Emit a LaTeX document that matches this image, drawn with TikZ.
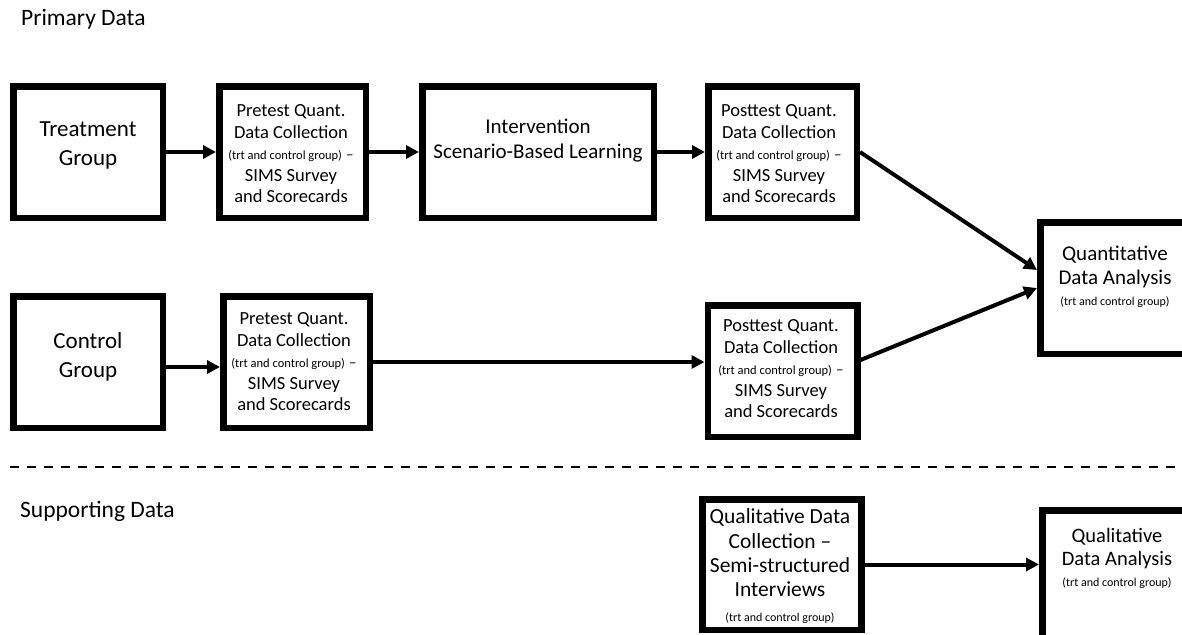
\documentclass[tikz,border=0pt]{standalone}
\usepackage{fontspec}
\setmainfont{Carlito}
\usetikzlibrary{arrows.meta}
\newcommand{\trtgrp}[1][12.5]{{\fontsize{#1}{14}\selectfont (trt and control group)}}
\tikzset{
  stagebox/.style={draw, line width=6.5pt, minimum width=#1, minimum height=131.5pt, inner sep=0pt},
  stagebox/.default=149.5pt,
  head/.style={inner sep=0pt, font=\fontsize{23.5}{28}\selectfont},
  grptxt/.style={inner sep=0pt, align=center, font=\fontsize{23}{29}\selectfont},
  coltxt/.style={inner sep=0pt, align=center, font=\fontsize{18.5}{21.5}\selectfont},
  antxt/.style={inner sep=0pt, align=center, font=\fontsize{21}{24}\selectfont},
  arr/.style={line width=4pt, -{Triangle[length=13pt,width=13pt]}},
  sepline/.style={line width=2pt, dash pattern=on 9pt off 8pt}
}
\begin{document}
\begin{tikzpicture}[x=1pt,y=-1pt]
      \useasboundingbox (0,0) rectangle (1182,634);

      \node[head, anchor=base west] (prim) at (21,26) {Primary Data};
      \node[head, anchor=base west] (supp) at (20,517) {Supporting Data};

      % treatment row
      \node[stagebox] (trt) at (88,152) {};
      \node[grptxt] (trt-t) at (88,145) {Treatment\\Group};
      \node[stagebox=146.5pt] (pretrt) at (292.5,152) {};
      \node[coltxt] (pretrt-t) at (291,154) {Pretest Quant.\\Data Collection\\\trtgrp{} {\fontsize{15}{15}\selectfont –}\\SIMS Survey\\and Scorecards};
      \node[stagebox=231.5pt] (intv) at (538,152) {};
      \node[antxt, font=\fontsize{21}{25}\selectfont] (intv-t) at (538,141) {Intervention\\Scenario-Based Learning};
      \node[stagebox=148.5pt] (posttrt) at (782.5,152) {};
      \node[coltxt] (posttrt-t) at (779,154) {Posttest Quant.\\Data Collection\\\trtgrp{} {\fontsize{15}{15}\selectfont –}\\SIMS Survey\\and Scorecards};

      % control row
      \node[stagebox] (ctl) at (88,362) {};
      \node[grptxt] (ctl-t) at (88,357) {Control\\Group};
      \node[stagebox=146.5pt] (precon) at (296.5,362) {};
      \node[coltxt] (precon-t) at (294,362) {Pretest Quant.\\Data Collection\\\trtgrp{} {\fontsize{15}{15}\selectfont –}\\SIMS Survey\\and Scorecards};
      \node[stagebox=149.5pt] (postcon) at (782.5,371) {};
      \node[coltxt] (postcon-t) at (781,369) {Posttest Quant.\\Data Collection\\\trtgrp{} {\fontsize{15}{15}\selectfont –}\\SIMS Survey\\and Scorecards};

      \node[stagebox] (quant) at (1115,288) {};
      \node[antxt] (quant-t) at (1115,277) {Quantitative\\Data Analysis\\[-3pt]\trtgrp[12]};

      % supporting data
      \node[stagebox=159pt, minimum height=130.5pt] (qualcol) at (782,564.5) {};
      \node[antxt, font=\fontsize{21.5}{24.3}\selectfont] (qualcol-t) at (780,566) {Qualitative Data\\Collection –\\Semi-structured\\Interviews\\\trtgrp[12]};
      \node[stagebox] (qualan) at (1117,576) {};
      \node[antxt, font=\fontsize{20.5}{23.5}\selectfont] (qualan-t) at (1117,558) {Qualitative\\Data Analysis\\[-3pt]\trtgrp[12]};

      \draw[arr] (trt) -- (pretrt);
      \draw[arr] (pretrt) -- (intv);
      \draw[arr] (intv) -- (posttrt);
      \draw[arr] ([yshift=-5pt]ctl.east) -- ([yshift=-5pt]precon.west);
      \draw[arr, line width=3.5pt] (precon.east) -- (precon.east -| postcon.west);
      \draw[arr] (posttrt.east) -- ([yshift=18pt]quant.west);
      \draw[arr] ([yshift=11pt]postcon.east) -- (quant.west);
      \draw[arr] (qualcol.east) -- (qualcol.east -| qualan.west);

      \draw[sepline] (10,467) -- (1182,467);
\end{tikzpicture}
\end{document}
